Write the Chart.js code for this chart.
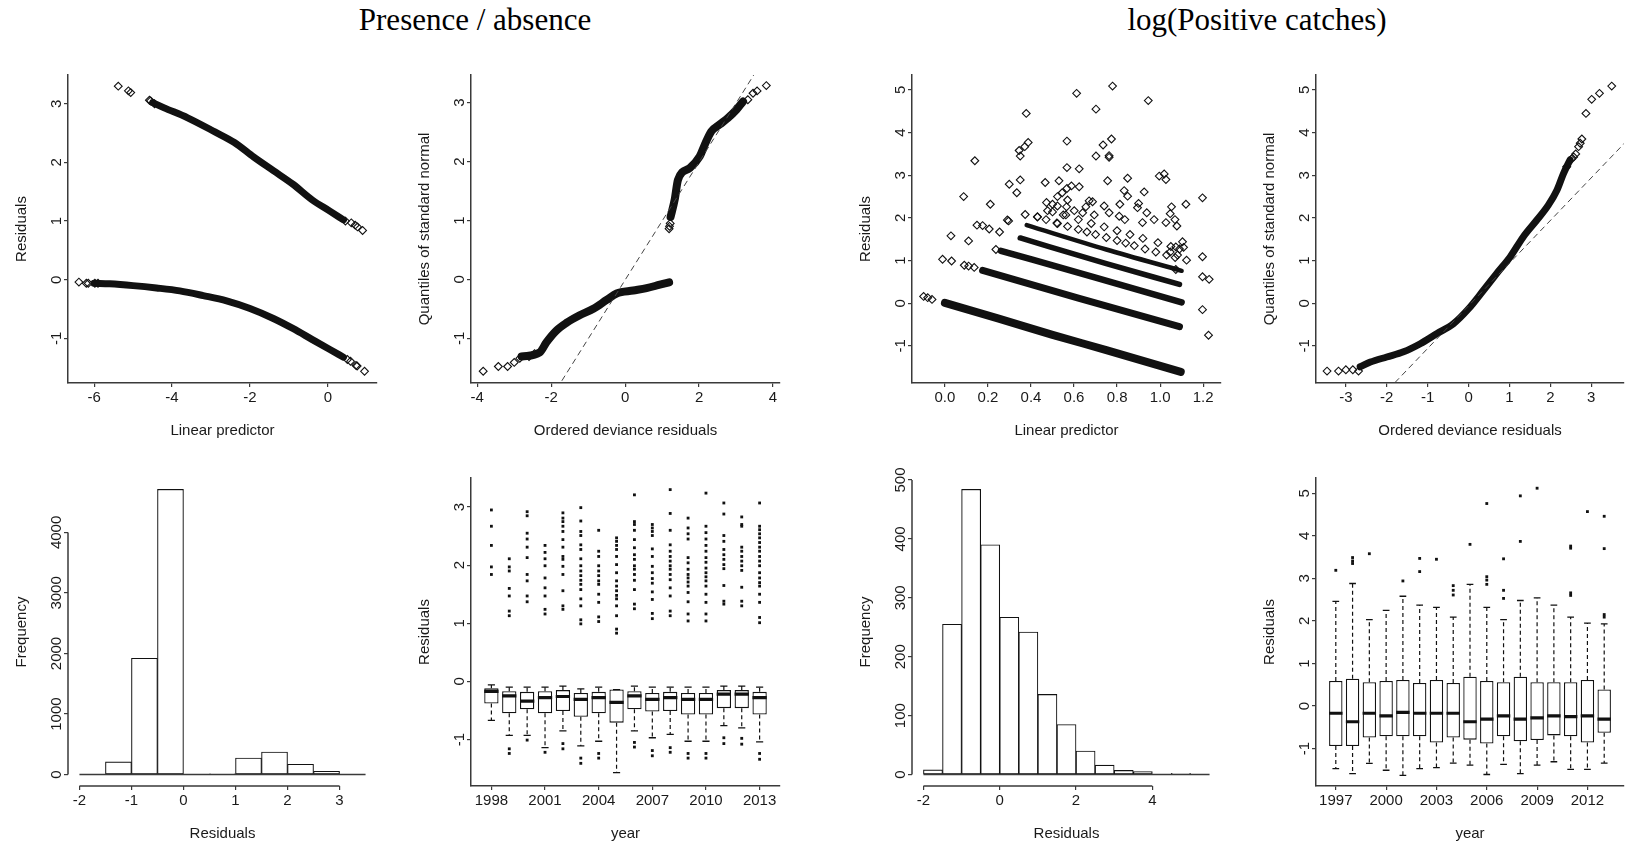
<!DOCTYPE html>
<html>
<head>
<meta charset="utf-8">
<script src="https://cdn.jsdelivr.net/npm/chart.js@4.4.1/dist/chart.umd.min.js"></script>
<style>
  body { margin: 0; background: #fff; width: 1627px; height: 849px; overflow: hidden; position: relative; }
  .title { position: absolute; font-family: 'Liberation Serif', 'Times New Roman', serif; font-size: 31px;
           line-height: 1; white-space: nowrap; transform: translateX(-50%); color: #000; }
  canvas { position: absolute; }
</style>
</head>
<body>
<div class="title" style="left:475px;top:4px">Presence / absence</div>
<div class="title" style="left:1257px;top:4px">log(Positive catches)</div>
<script>
// ---------- data ----------

// Panel 1: presence/absence residuals vs linear predictor
const p1UpperX = [-4.5, -4.2, -3.6, -2.9, -2.4, -1.9, -1.4, -0.9, -0.4, 0.05, 0.4];
const p1UpperY = [3.02, 2.93, 2.76, 2.52, 2.34, 2.09, 1.86, 1.63, 1.36, 1.17, 1.02];
const p1LowerX = [-6.0, -5.6, -5.0, -4.4, -3.8, -3.2, -2.6, -2.0, -1.4, -0.9, -0.4, 0.05, 0.4];
const p1LowerY = [-0.06, -0.07, -0.10, -0.14, -0.19, -0.27, -0.36, -0.49, -0.66, -0.83, -1.02, -1.19, -1.32];
const p1PtsX = [-5.38, -5.12, -5.06, -4.58, -4.55, -4.45, 0.45, 0.6, 0.7, 0.76, 0.89,
                -6.39, -6.2, -6.15, -5.98, -5.9, 0.5, 0.58, 0.72, 0.75, 0.94];
const p1PtsY = [3.30, 3.22, 3.19, 3.06, 3.05, 3.0, 1.0, 0.97, 0.93, 0.90, 0.84,
                -0.04, -0.06, -0.06, -0.06, -0.06, -1.36, -1.39, -1.46, -1.47, -1.56];

// Panel 2: presence/absence QQ
const p2LowerX = [-2.8, -2.31, -2.13, -1.86, -1.59, -1.23, -0.86, -0.5, -0.23, 0.22, 0.58, 0.94, 1.19];
const p2LowerY = [-1.31, -1.24, -1.07, -0.87, -0.74, -0.61, -0.5, -0.35, -0.24, -0.19, -0.15, -0.09, -0.05];
const p2UpperX = [1.23, 1.34, 1.43, 1.75, 2.02, 2.15, 2.33, 2.56, 2.78, 3.01, 3.19];
const p2UpperY = [1.06, 1.35, 1.69, 1.89, 2.09, 2.28, 2.51, 2.63, 2.74, 2.88, 3.02];
const p2PtsX = [-3.84, -3.43, -3.18, -3.0, -2.85, -2.6, -2.45, 1.19, 1.2, 1.22, 3.32, 3.46, 3.57, 3.82];
const p2PtsY = [-1.56, -1.48, -1.48, -1.41, -1.34, -1.31, -1.26, 0.86, 0.9, 0.95, 3.05, 3.16, 3.2, 3.29];
const p2LineX = [-2, 4];
const p2LineY = [-2.01, 3.99];

// Panel 3: positive catches residuals vs linear predictor (bands + scatter)
const p3Band1X = [0.0, 0.25, 0.5, 0.75, 1.096];
const p3Band1Y = [0.01, -0.36, -0.74, -1.1, -1.61];
const p3Band2X = [0.175, 0.62, 1.09];
const p3Band2Y = [0.77, 0.12, -0.55];
const p3Band3X = [0.26, 0.7, 1.1];
const p3Band3Y = [1.23, 0.6, 0.02];
const p3Band4X = [0.35, 0.75, 1.09];
const p3Band4Y = [1.53, 0.93, 0.44];
const p3Band5X = [0.38, 0.75, 1.1];
const p3Band5Y = [1.83, 1.26, 0.76];
const p3Band6X = [0.43, 0.47, 0.52, 0.57, 0.62, 0.66, 0.7, 0.75, 0.8, 0.84, 0.88, 0.93, 0.98, 1.03, 1.07];
const p3Band6Y = [2.02, 1.96, 1.88, 1.8, 1.73, 1.67, 1.61, 1.54, 1.47, 1.41, 1.35, 1.27, 1.2, 1.13, 1.07];
const p3Band7X = [0.5, 0.55, 0.62, 0.68, 0.74, 0.8, 0.86, 0.92, 0.99, 1.05, 1.09];
const p3Band7Y = [2.14, 2.07, 1.96, 1.87, 1.79, 1.7, 1.61, 1.52, 1.42, 1.33, 1.27];
const p3PtsX = [0.779, 0.612, 0.945, 0.702, 0.378, 0.567, 0.774, 0.735, 0.387, 0.371, 0.345, 0.35, 0.702, 0.763,
  0.763, 0.139, 0.567, 0.624, 0.35, 0.466, 0.53, 0.756, 0.849, 0.996, 1.019, 1.027, 0.299, 0.334, 0.087, 0.211,
  1.197, 1.12, 0.926, 0.833, 0.849, 0.567, 0.588, 0.624, 0.523, 0.545, 0.57, 0.472, 0.5, 0.477, 0.523, 0.565,
  0.67, 0.686, 0.655, 0.74, 0.813, 0.9, 0.895, 0.938, 1.053, 1.047, 0.523, 0.562, 0.601, 0.64, 0.694, 0.763,
  0.81, 0.836, 0.918, 0.972, 1.027, 1.069, 1.078, 0.373, 0.028, 0.11, 0.149, 0.175, 0.206, 0.296, 0.254, -0.011,
  0.031, 0.43, 1.197, 1.197, 1.228, 1.197, 1.225, 1.104, 1.109, 1.073, 1.047, 1.081, 1.123, 1.073, -0.099, -0.08,
  -0.06, 0.09, 0.11, 0.136, 0.237, 0.29];
const p3PtsY = [5.09, 4.92, 4.75, 4.55, 4.45, 3.80, 3.85, 3.71, 3.77, 3.67, 3.58, 3.45, 3.45, 3.46,
  3.42, 3.34, 3.18, 3.15, 2.89, 2.83, 2.87, 2.87, 2.93, 2.98, 3.03, 2.9, 2.79, 2.59, 2.5, 2.32,
  2.47, 2.32, 2.61, 2.64, 2.51, 2.69, 2.75, 2.73, 2.5, 2.59, 2.42, 2.36, 2.32, 2.17, 2.28, 2.26,
  2.4, 2.38, 2.26, 2.28, 2.32, 2.34, 2.24, 2.12, 2.26, 2.1, 1.87, 2.07, 2.17, 2.12, 2.07, 2.12,
  2.04, 1.96, 1.89, 1.96, 1.89, 1.96, 1.81, 2.08, 1.58, 1.46, 1.83, 1.82, 1.74, 1.93, 1.67, 1.03,
  0.99, 2.03, 1.09, 0.62, 0.56, -0.15, -0.75, 1.44, 1.31, 1.32, 1.2, 1.13, 1.01, 0.79, 0.16, 0.13,
  0.09, 0.89, 0.87, 0.84, 1.26, 1.95];

// Panel 4: positive catches QQ
const p4DenseX = [-2.65, -2.4, -2.0, -1.59, -1.18, -0.77, -0.37, 0, 0.37, 0.69, 1.02, 1.34, 1.67, 1.95, 2.16, 2.32, 2.48];
const p4DenseY = [-1.49, -1.38, -1.26, -1.14, -0.95, -0.71, -0.48, -0.13, 0.31, 0.7, 1.09, 1.56, 1.95, 2.3, 2.65, 3.04, 3.36];
const p4PtsX = [-3.46, -3.18, -3.0, -2.83, -2.69, 2.4, 2.52, 2.57, 2.62, 2.69, 2.73, 2.77, 2.87, 3.01, 3.2, 3.5];
const p4PtsY = [-1.59, -1.59, -1.56, -1.56, -1.59, 3.2, 3.38, 3.43, 3.5, 3.67, 3.75, 3.85, 4.45, 4.78, 4.92, 5.09];
const p4LineX = [-4, 4];
const p4LineY = [-4.06, 3.94];

// Panel 5: presence/absence residual histogram
const BIN_W = 0.5;
const p5BinStart = [-1.5, -1, -0.5, 0, 0.5, 1, 1.5, 2, 2.5];
const p5Counts = [210, 1920, 4710, 0, 15, 275, 374, 170, 55];
const p5BaseX = [-2, 3.5];

// Panel 6: presence/absence residuals by year
const p6Years = [1998, 1999, 2000, 2001, 2002, 2003, 2004, 2005, 2006, 2007, 2008, 2009, 2010, 2011, 2012, 2013];
const p6Lo  = [-0.67, -0.93, -0.93, -1.14, -0.85, -1.11, -1.03, -1.57, -0.85, -0.97, -0.91, -1.03, -1.03, -0.76, -0.80, -1.04];
const p6Q1  = [-0.38, -0.55, -0.48, -0.55, -0.51, -0.61, -0.55, -0.71, -0.48, -0.52, -0.51, -0.57, -0.57, -0.46, -0.46, -0.57];
const p6Med = [-0.17, -0.25, -0.34, -0.28, -0.26, -0.31, -0.28, -0.36, -0.25, -0.31, -0.28, -0.31, -0.31, -0.22, -0.22, -0.28];
const p6Q3  = [-0.12, -0.17, -0.18, -0.17, -0.15, -0.20, -0.18, -0.14, -0.17, -0.20, -0.18, -0.20, -0.20, -0.15, -0.15, -0.18];
const p6Hi  = [-0.06, -0.10, -0.10, -0.10, -0.08, -0.13, -0.10, -0.14, -0.08, -0.10, -0.10, -0.10, -0.10, -0.08, -0.08, -0.10];
const p6Out = [
  [1.84, 1.97, 2.34, 2.67, 2.95],
  [-1.16, -1.24, 2.11, 1.97, 1.9, 1.6, 1.47, 1.21, 1.13],
  [-1.01, 2.92, 2.85, 2.55, 2.45, 2.31, 2.13, 1.84, 1.73, 1.47, 1.37],
  [-1.22, 2.34, 2.22, 2.11, 1.99, 1.78, 1.61, 1.47, 1.24, 1.16],
  [-1.07, -1.16, 2.9, 2.81, 2.75, 2.67, 2.58, 2.44, 2.31, 2.15, 2.1, 1.98, 1.84, 1.56, 1.3, 1.24],
  [-1.32, -1.41, 2.99, 2.76, 2.58, 2.51, 2.35, 2.27, 2.11, 1.99, 1.9, 1.82, 1.74, 1.67, 1.58, 1.42, 1.3, 1.06, 0.99],
  [-1.24, -1.32, 2.6, 2.24, 2.15, 1.99, 1.9, 1.82, 1.73, 1.67, 1.5, 1.36, 1.11, 1.03],
  [2.47, 2.41, 2.34, 2.27, 2.15, 2.01, 1.87, 1.73, 1.64, 1.56, 1.48, 1.42, 1.3, 1.13, 0.9, 0.83],
  [-1.05, -1.13, 3.21, 2.75, 2.7, 2.6, 2.44, 2.3, 2.18, 2.1, 1.99, 1.93, 1.84, 1.74, 1.58, 1.33, 1.25],
  [-1.19, -1.28, 2.7, 2.64, 2.58, 2.51, 2.28, 2.15, 1.98, 1.87, 1.77, 1.69, 1.54, 1.41, 1.17, 1.08],
  [-1.14, -1.22, 3.3, 2.89, 2.6, 2.35, 2.24, 2.15, 2.07, 1.99, 1.93, 1.84, 1.75, 1.61, 1.47, 1.21, 1.13],
  [-1.24, -1.32, 2.81, 2.64, 2.54, 2.45, 2.13, 2.04, 1.93, 1.84, 1.78, 1.71, 1.64, 1.53, 1.37, 1.16, 1.04],
  [-1.24, -1.32, 3.24, 2.67, 2.56, 2.45, 2.34, 2.24, 2.13, 2.05, 1.95, 1.87, 1.8, 1.73, 1.64, 1.5, 1.36, 1.16, 1.04],
  [-0.97, -1.07, 3.07, 2.88, 2.51, 2.41, 2.27, 2.18, 2.1, 2.01, 1.94, 1.65, 1.38, 1.33],
  [-0.98, -1.08, 2.83, 2.7, 2.67, 2.31, 2.24, 2.15, 2.07, 1.99, 1.91, 1.62, 1.38, 1.3],
  [-1.24, -1.34, 3.07, 2.67, 2.61, 2.54, 2.47, 2.39, 2.31, 2.24, 2.15, 2.07, 1.99, 1.87, 1.78, 1.7, 1.64, 1.5, 1.36, 1.1, 1.01]
];

// Panel 7: positive catches residual histogram
const p7BinStart = [-2, -1.5, -1, -0.5, 0, 0.5, 1, 1.5, 2, 2.5, 3, 3.5, 4, 4.5, 5];
const p7Counts = [8, 255, 484, 390, 267, 242, 136, 85, 40, 16, 7, 5, 0, 2, 0];
const p7BaseX = [-2, 5.5];

// Panel 8: positive catches residuals by year
const p8Years = [1997, 1998, 1999, 2000, 2001, 2002, 2003, 2004, 2005, 2006, 2007, 2008, 2009, 2010, 2011, 2012, 2013];
const p8Lo  = [-1.47, -1.59, -1.35, -1.51, -1.63, -1.47, -1.45, -1.34, -1.39, -1.61, -1.37, -1.59, -1.39, -1.31, -1.49, -1.49, -1.34];
const p8Q1  = [-0.94, -0.94, -0.74, -0.71, -0.71, -0.71, -0.86, -0.74, -0.79, -0.88, -0.71, -0.83, -0.80, -0.69, -0.71, -0.86, -0.63];
const p8Med = [-0.17, -0.37, -0.17, -0.23, -0.15, -0.17, -0.17, -0.17, -0.37, -0.31, -0.23, -0.31, -0.28, -0.23, -0.25, -0.23, -0.31];
const p8Q3  = [0.59, 0.64, 0.56, 0.59, 0.61, 0.54, 0.61, 0.54, 0.69, 0.59, 0.56, 0.69, 0.56, 0.56, 0.56, 0.61, 0.39];
const p8Hi  = [2.46, 2.88, 2.03, 2.25, 2.58, 2.37, 2.32, 2.09, 2.86, 2.32, 2.03, 2.48, 2.54, 2.37, 2.09, 1.95, 1.93];
const p8Out = [[3.19], [3.49, 3.41, 3.35], [3.58], [], [2.94], [3.47, 3.16], [3.45], [2.83, 2.72, 2.61], [3.8],
  [4.76, 3.04, 2.96, 2.86], [3.46, 2.72, 2.53], [4.94, 3.87], [5.12], [], [3.76, 3.71, 2.66, 2.6], [4.57],
  [4.46, 3.7, 2.15, 2.09]];

// tick values and labels
const ticksM1to3 = [-1, 0, 1, 2, 3];
const ticksM1to5 = [-1, 0, 1, 2, 3, 4, 5];
const p1XTicks = [-6, -4, -2, 0];
const p2XTicks = [-4, -2, 0, 2, 4];
const p3XTicks = [0, 0.2, 0.4, 0.6, 0.8, 1.0, 1.2];
const p3XLabels = ['0.0', '0.2', '0.4', '0.6', '0.8', '1.0', '1.2'];
const p4XTicks = [-3, -2, -1, 0, 1, 2, 3];
const p5XTicks = [-2, -1, 0, 1, 2, 3];
const p5YTicks = [0, 1000, 2000, 3000, 4000];
const p6XTicks = [1998, 2001, 2004, 2007, 2010, 2013];
const p7XTicks = [-2, 0, 2, 4];
const p7YTicks = [0, 100, 200, 300, 400, 500];
const p8XTicks = [1997, 2000, 2003, 2006, 2009, 2012];

// ---------- styling / layout ----------
const INK = '#111';
const AX = '#3a3a3a';
const TXT = '#1a1a1a';
const FAMILY = "'Liberation Sans', Arial, sans-serif";
const FONT = { family: FAMILY, size: 15 };
const PAD_L = 60, PAD_B = 60, PAD_T = 15, PAD_R = 15;
const BOX_W = 0.8, BOX_HALF = 0.4, CAP_HALF = 0.2;

const pts = (xs, ys) => xs.map((x, i) => ({ x: x, y: ys[i] }));

// R style rotated y tick labels
const rotatedYLabels = {
  id: 'rotatedYLabels',
  afterDraw(chart) {
    const s = chart.scales.y, ctx = chart.ctx;
    ctx.save();
    ctx.fillStyle = TXT;
    ctx.font = '15px ' + FAMILY;
    ctx.textAlign = 'center';
    ctx.textBaseline = 'middle';
    s.ticks.forEach(t => {
      ctx.save();
      ctx.translate(s.right - 11, s.getPixelForValue(t.value));
      ctx.rotate(-Math.PI / 2);
      ctx.fillText(t.label, 0, 0);
      ctx.restore();
    });
    ctx.restore();
  }
};

// histogram axes only run from first to last tick
const partialAxes = {
  id: 'partialAxes',
  afterDraw(chart, args, opts) {
    if (!opts || !opts.on) return;
    const x = chart.scales.x, y = chart.scales.y, a = chart.chartArea, ctx = chart.ctx;
    ctx.save();
    ctx.strokeStyle = AX;
    ctx.lineWidth = 1.5;
    ctx.beginPath();
    ctx.moveTo(x.getPixelForValue(x.ticks[0].value), a.bottom);
    ctx.lineTo(x.getPixelForValue(x.ticks[x.ticks.length - 1].value), a.bottom);
    ctx.moveTo(a.left, y.getPixelForValue(y.ticks[0].value));
    ctx.lineTo(a.left, y.getPixelForValue(y.ticks[y.ticks.length - 1].value));
    ctx.stroke();
    ctx.restore();
  }
};
Chart.register(rotatedYLabels, partialAxes);

function panelCanvas(plot) {
  const c = document.createElement('canvas');
  const w = plot.r - plot.l + PAD_L + PAD_R;
  const h = plot.b - plot.t + PAD_T + PAD_B;
  c.width = w; c.height = h;
  c.style.left = (plot.l - PAD_L) + 'px';
  c.style.top = (plot.t - PAD_T) + 'px';
  c.style.width = w + 'px';
  c.style.height = h + 'px';
  document.body.appendChild(c);
  return c;
}

function xScale(ax, partial) {
  const labels = ax.labels || ax.ticks.map(String);
  return {
    type: 'linear', min: ax.min, max: ax.max, offset: false,
    afterBuildTicks: s => { s.ticks = ax.ticks.map(v => ({ value: v })); },
    afterFit: s => { s.height = PAD_B; s.paddingLeft = 0; s.paddingRight = 0; },
    ticks: { autoSkip: false, maxRotation: 0, minRotation: 0, padding: 2, color: TXT, font: FONT,
             callback: (v, i) => labels[i] },
    grid: { display: true, drawOnChartArea: false, drawTicks: true, tickLength: 4, color: AX, lineWidth: 1.2, offset: false },
    border: { display: !partial, color: AX, width: 1.5 },
    title: { display: true, text: ax.title, color: TXT, font: FONT, padding: { top: 0, bottom: 3.5 } }
  };
}

function yScale(ax, partial) {
  const labels = ax.labels || ax.ticks.map(String);
  return {
    type: 'linear', min: ax.min, max: ax.max,
    afterBuildTicks: s => { s.ticks = ax.ticks.map(v => ({ value: v })); },
    afterFit: s => { s.width = PAD_L; s.paddingTop = 0; s.paddingBottom = 0; },
    ticks: { display: false, autoSkip: false, callback: (v, i) => labels[i] },
    grid: { display: true, drawOnChartArea: false, drawTicks: true, tickLength: 4, color: AX, lineWidth: 1.2 },
    border: { display: !partial, color: AX, width: 1.5 },
    title: { display: true, text: ax.title, color: TXT, font: FONT, padding: { top: 5, bottom: 0 } }
  };
}

function makeChart(plot, type, datasets, xa, ya, partial) {
  return new Chart(panelCanvas(plot), {
    type: type,
    data: { datasets: datasets },
    options: {
      responsive: false, animation: false, events: [],
      layout: { padding: { top: PAD_T, right: PAD_R, left: 0, bottom: 0 } },
      plugins: { legend: { display: false }, tooltip: { enabled: false }, partialAxes: { on: !!partial } },
      scales: { x: xScale(xa, partial), y: yScale(ya, partial) }
    }
  });
}

// dataset builders
function diamonds(xs, ys) {
  return { type: 'scatter', data: pts(xs, ys), pointStyle: 'rectRot', pointRadius: 3.9, pointBorderWidth: 1.1,
           borderColor: INK, backgroundColor: 'rgba(0,0,0,0)', showLine: false };
}
function band(xs, ys, w) {
  return { type: 'scatter', data: pts(xs, ys), showLine: true, borderWidth: w, borderColor: INK, pointRadius: 0,
           cubicInterpolationMode: 'monotone', borderCapStyle: 'round', borderJoinStyle: 'round' };
}
function dashed(xs, ys) {
  return { type: 'scatter', data: pts(xs, ys), showLine: true, borderWidth: 1, borderColor: '#444',
           borderDash: [6, 4], pointRadius: 0 };
}
function histogram(starts, counts, baseX) {
  return [
    { type: 'line', data: pts(baseX, baseX.map(() => 0)), borderColor: AX, borderWidth: 1.5, pointRadius: 0 },
    { type: 'bar', data: starts.map((s, i) => ({ x: s + BIN_W / 2, y: counts[i] })), backgroundColor: '#fff',
      borderColor: INK, borderWidth: 1.1, borderSkipped: false, barPercentage: 1, categoryPercentage: 1 }
  ];
}
function boxplots(years, lo, q1, med, q3, hi, out) {
  const medSeg = [], caps = [], whisk = [], outs = [];
  years.forEach((yr, i) => {
    medSeg.push({ x: yr - BOX_HALF, y: med[i] }, { x: yr + BOX_HALF, y: med[i] }, { x: yr, y: null });
    caps.push({ x: yr - CAP_HALF, y: hi[i] }, { x: yr + CAP_HALF, y: hi[i] }, { x: yr, y: null },
              { x: yr - CAP_HALF, y: lo[i] }, { x: yr + CAP_HALF, y: lo[i] }, { x: yr, y: null });
    whisk.push({ x: yr, y: q3[i] }, { x: yr, y: hi[i] }, { x: yr, y: null },
               { x: yr, y: q1[i] }, { x: yr, y: lo[i] }, { x: yr, y: null });
    out[i].forEach(v => outs.push({ x: yr, y: v }));
  });
  return [
    { type: 'line', data: medSeg, borderColor: INK, borderWidth: 3.2, pointRadius: 0, spanGaps: false },
    { type: 'line', data: caps, borderColor: INK, borderWidth: 1.3, pointRadius: 0, spanGaps: false },
    { type: 'scatter', data: outs, pointStyle: 'rect', pointRadius: 2, backgroundColor: INK, borderColor: INK, pointBorderWidth: 0 },
    { type: 'line', data: whisk, borderColor: INK, borderWidth: 1.2, borderDash: [4, 3], pointRadius: 0, spanGaps: false },
    { type: 'bar', data: years.map((yr, i) => ({ x: yr, y: [q1[i], q3[i]] })), backgroundColor: '#fff',
      borderColor: INK, borderWidth: 1.3, borderSkipped: false, barPercentage: 1, categoryPercentage: BOX_W }
  ];
}

// ---------- panels ----------
makeChart({ l: 68, t: 75, r: 377, b: 383 }, 'scatter',
  [band(p1UpperX, p1UpperY, 7), band(p1LowerX, p1LowerY, 7), diamonds(p1PtsX, p1PtsY)],
  { min: -6.67, max: 1.26, ticks: p1XTicks, title: 'Linear predictor' },
  { min: -1.76, max: 3.49, ticks: ticksM1to3, title: 'Residuals' });

makeChart({ l: 471, t: 75, r: 780, b: 383 }, 'scatter',
  [dashed(p2LineX, p2LineY), band(p2LowerX, p2LowerY, 8), band(p2UpperX, p2UpperY, 8), diamonds(p2PtsX, p2PtsY)],
  { min: -4.17, max: 4.19, ticks: p2XTicks, title: 'Ordered deviance residuals' },
  { min: -1.76, max: 3.47, ticks: ticksM1to3, title: 'Quantiles of standard normal' });

makeChart({ l: 912, t: 75, r: 1221, b: 383 }, 'scatter',
  [band(p3Band1X, p3Band1Y, 8), band(p3Band2X, p3Band2Y, 7), band(p3Band3X, p3Band3Y, 6.5),
   band(p3Band4X, p3Band4Y, 5.5), band(p3Band5X, p3Band5Y, 4.5),
   diamonds(p3Band6X, p3Band6Y), diamonds(p3Band7X, p3Band7Y), diamonds(p3PtsX, p3PtsY)],
  { min: -0.153, max: 1.283, ticks: p3XTicks, labels: p3XLabels, title: 'Linear predictor' },
  { min: -1.87, max: 5.35, ticks: ticksM1to5, title: 'Residuals' });

makeChart({ l: 1316, t: 75, r: 1624, b: 383 }, 'scatter',
  [dashed(p4LineX, p4LineY), band(p4DenseX, p4DenseY, 7), diamonds(p4PtsX, p4PtsY)],
  { min: -3.73, max: 3.80, ticks: p4XTicks, title: 'Ordered deviance residuals' },
  { min: -1.87, max: 5.35, ticks: ticksM1to5, title: 'Quantiles of standard normal' });

makeChart({ l: 68, t: 478, r: 377, b: 786 }, 'bar',
  histogram(p5BinStart, p5Counts, p5BaseX),
  { min: -2.22, max: 3.72, ticks: p5XTicks, title: 'Residuals' },
  { min: -188, max: 4898, ticks: p5YTicks, title: 'Frequency' }, true);

makeChart({ l: 471, t: 478, r: 780, b: 786 }, 'bar',
  boxplots(p6Years, p6Lo, p6Q1, p6Med, p6Q3, p6Hi, p6Out),
  { min: 1996.86, max: 2014.14, ticks: p6XTicks, title: 'year' },
  { min: -1.8, max: 3.5, ticks: ticksM1to3, title: 'Residuals' });

makeChart({ l: 912, t: 478, r: 1221, b: 786 }, 'bar',
  histogram(p7BinStart, p7Counts, p7BaseX),
  { min: -2.3, max: 5.8, ticks: p7XTicks, title: 'Residuals' },
  { min: -19.4, max: 503.4, ticks: p7YTicks, title: 'Frequency' }, true);

makeChart({ l: 1316, t: 478, r: 1624, b: 786 }, 'bar',
  boxplots(p8Years, p8Lo, p8Q1, p8Med, p8Q3, p8Hi, p8Out),
  { min: 1995.82, max: 2014.18, ticks: p8XTicks, title: 'year' },
  { min: -1.88, max: 5.36, ticks: ticksM1to5, title: 'Residuals' });
</script>
</body>
</html>
